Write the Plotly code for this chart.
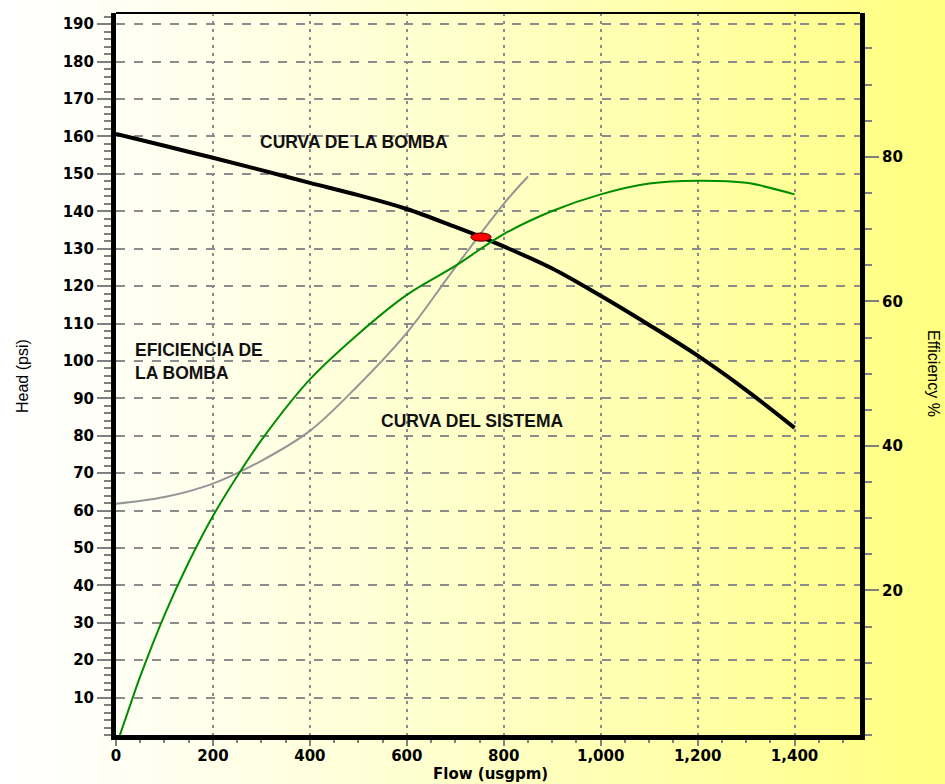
import plotly.graph_objects as go

# pump curve: head (psi) vs flow (usgpm)
pump_flow = [0, 100, 200, 300, 400, 500, 600, 700, 750, 800, 900, 1000, 1100, 1200, 1300, 1400]
pump_head = [160.7, 157.5, 154.3, 151.0, 147.6, 144.3, 140.6, 135.8, 133.3, 130.6, 124.7, 117.4, 109.6, 101.4, 92.2, 82.1]

# pump efficiency (%) on the right axis
eff_flow = [8, 25, 50, 100, 150, 200, 250, 300, 400, 500, 600, 700, 800, 900, 1000, 1100, 1200, 1300, 1400]
eff_val = [0, 3.3, 8.1, 16.6, 23.9, 30.3, 35.8, 40.8, 49.2, 55.5, 60.9, 64.9, 69.3, 72.5, 74.8, 76.3, 76.7, 76.4, 74.8]

# system curve
sys_flow = [0, 100, 200, 300, 400, 500, 600, 700, 800, 850]
sys_head = [61.8, 63.6, 67.2, 73.3, 81.3, 93.5, 107.5, 125.0, 142.0, 149.3]

# operating point
op_flow = 753
op_head = 133.1

head_ticks = [10, 20, 30, 40, 50, 60, 70, 80, 90, 100, 110, 120, 130, 140, 150, 160, 170, 180, 190]
eff_ticks = [20, 40, 60, 80]
flow_ticks = [0, 200, 400, 600, 800, 1000, 1200, 1400]

W, H = 945, 784
ML, MR, MT, MB = 116, 85, 13, 49
pw = W - ML - MR
ph = H - MT - MB

tick_font = dict(family="DejaVu Sans", size=15, color="black", weight="bold")
label_font = dict(family="Liberation Sans", size=17.5, color="#111111")
title_font = dict(family="Liberation Sans Narrow, Liberation Sans", size=16, color="black")
grid_col = "#8c8c8c"

fig = go.Figure()
fig.add_trace(go.Scatter(x=sys_flow, y=sys_head, mode="lines", line=dict(color="#959595", width=2, shape="spline"),
                         hoverinfo="skip"))
fig.add_trace(go.Scatter(x=eff_flow, y=eff_val, mode="lines", yaxis="y2",
                         line=dict(color="#008c00", width=2, shape="spline"), hoverinfo="skip"))
fig.add_trace(go.Scatter(x=pump_flow, y=pump_head, mode="lines", line=dict(color="black", width=4, shape="spline"),
                         hoverinfo="skip"))

# background gradient white -> yellow
shapes = []
n = 95
for i in range(n):
    t = i / (n - 1)
    b = int(round(255 - 127 * t ** 1.2))
    shapes.append(dict(type="rect", xref="paper", yref="paper", layer="below",
                       x0=(i * W / n - ML) / pw, x1=((i + 1) * W / n - ML) / pw + 0.003,
                       y0=-MB / ph - 0.01, y1=(H - MB) / ph + 0.01,
                       fillcolor="rgb(255,255,%d)" % b, line_width=0))
# top border
shapes.append(dict(type="line", xref="paper", yref="paper", x0=0, x1=1, y0=1, y1=1,
                   line=dict(color="black", width=2)))
# operating point marker
shapes.append(dict(type="circle", xref="x", yref="y", x0=op_flow - 21, x1=op_flow + 21,
                   y0=op_head - 1.1, y1=op_head + 1.1, fillcolor="#ff0000",
                   line=dict(color="#500000", width=1)))

annotations = [
    dict(x=492, y=158.6, xref="x", yref="y", text="<b>CURVA DE LA BOMBA</b>", showarrow=False, font=label_font),
    dict(x=35, y=99.9, xref="x", yref="y", text="<b>EFICIENCIA DE<br>LA BOMBA</b>", showarrow=False,
         xanchor="left", align="left", font=label_font),
    dict(x=543, y=84, xref="x", yref="y", text="<b>CURVA DEL SISTEMA</b>", showarrow=False,
         xanchor="left", font=label_font),
    dict(x=(22 - ML) / pw, y=(H - 376 - MB) / ph, xref="paper", yref="paper", text="Head (psi)",
         textangle=-90, showarrow=False, xanchor="center", yanchor="middle", font=title_font),
    dict(x=(490 - ML) / pw, y=(H - 774 - MB) / ph, xref="paper", yref="paper", text="Flow (usgpm)",
         showarrow=False, xanchor="center", yanchor="middle", font=tick_font),
    dict(x=(934 - ML) / pw, y=(H - 374 - MB) / ph, xref="paper", yref="paper", text="Efficiency %",
         textangle=90, showarrow=False, xanchor="center", yanchor="middle", font=title_font),
]

fig.update_layout(
    width=W, height=H,
    margin=dict(l=ML, r=MR, t=MT, b=MB),
    paper_bgcolor="rgba(0,0,0,0)", plot_bgcolor="rgba(0,0,0,0)",
    showlegend=False,
    shapes=shapes,
    annotations=annotations,
    xaxis=dict(range=[0, 1535], tickmode="array", tickvals=flow_ticks, tickformat=",d",
               showline=True, linecolor="black", linewidth=5,
               ticks="outside", ticklen=6, tickwidth=2, tickcolor="#808080", ticklabelstandoff=-3,
               minor=dict(tickmode="linear", tick0=0, dtick=50, ticks="outside", ticklen=3,
                          tickwidth=2, tickcolor="#808080", showgrid=False),
               showgrid=True, gridcolor=grid_col, gridwidth=2, griddash="3px,5px",
               zeroline=False, tickfont=tick_font),
    yaxis=dict(range=[0, 193], tickmode="array", tickvals=head_ticks,
               showline=True, linecolor="black", linewidth=5,
               ticks="outside", ticklen=14, tickwidth=2, tickcolor="#808080",
               minor=dict(tickmode="linear", tick0=0, dtick=2, ticks="outside", ticklen=7,
                          tickwidth=2, tickcolor="#808080", showgrid=False),
               showgrid=True, gridcolor=grid_col, gridwidth=2, griddash="9px,9px",
               zeroline=False, tickfont=tick_font),
    yaxis2=dict(range=[0, 99.9], overlaying="y", side="right", tickmode="array", tickvals=eff_ticks,
                showline=True, linecolor="black", linewidth=5,
                ticks="outside", ticklen=14, tickwidth=2, tickcolor="#808080",
                minor=dict(tickmode="linear", tick0=0, dtick=5, ticks="outside", ticklen=7,
                           tickwidth=2, tickcolor="#808080", showgrid=False),
                showgrid=False, zeroline=False, tickfont=tick_font),
)

# the page's default body margin would shift the figure by 8px
fig.write_html("out.html", config={"displayModeBar": False},
               post_script="document.body.style.margin='0';")
